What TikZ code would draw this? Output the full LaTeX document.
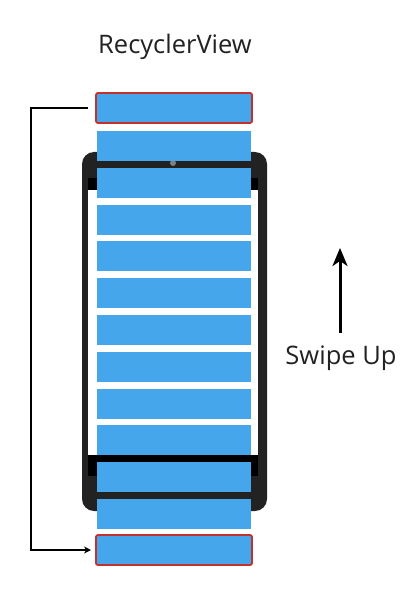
\documentclass[tikz,border=0pt]{standalone}
\usepackage{fontspec}
\setmainfont{Open Sans}
\usetikzlibrary{arrows.meta}
\definecolor{itemblue}{RGB}{70,166,235}
\definecolor{itemred}{RGB}{196,48,43}
\definecolor{phonegray}{RGB}{34,34,34}
\definecolor{labelgray}{RGB}{34,34,34}

\begin{document}
\begin{tikzpicture}[
  x=1pt,y=-1pt,
  item/.style={fill=itemblue,minimum width=154pt,minimum height=30pt,
               inner sep=0pt,outer sep=0pt},
  recycled/.style={item,draw=itemred,line width=1.8pt,rounded corners=2pt,
                   minimum width=156pt},
  bar/.style={fill=black,minimum width=170pt,inner sep=0pt},
  lbl/.style={font=\fontsize{25.5}{30}\selectfont,text=labelgray,anchor=base},
  ar/.style={-{Stealth[length=7pt,width=7pt]},line width=1.8pt},
  swipe/.style={-{Stealth[length=18pt,width=15pt,inset=5pt]},line width=3pt}
]
\useasboundingbox (0,0) rectangle (413,612);

% phone behind the list
\node[fill=phonegray,rounded corners=12pt,minimum width=185pt,
      minimum height=359pt,inner sep=0pt] (phone) at (174.5,331.5) {};
\node[fill=white,minimum width=170pt,minimum height=265pt,inner sep=0pt]
  (screen) at (173,322.5) {};
\node[bar,minimum height=12pt] (statusbar) at (173,184) {};
\node[bar,minimum height=21pt] (navbar) at (173,465.5) {};
\node[circle,fill=gray,minimum size=6pt,inner sep=0pt] (camera) at (173,163) {};

% list items
\foreach \i in {0,...,10}
  \node[item] (item\i) at (174,146+36.8*\i) {};
\node[recycled] (recycledtop) at (174,108) {};
\node[recycled] (recycledbot) at (174,550) {};

\node[lbl] (title) at (175,54) {RecyclerView};
\node[lbl] (swipelbl) at (341,364) {Swipe Up};

\coordinate (swipefrom) at (340,333);
\coordinate (swipeto) at (340,248);
\draw[swipe] (swipefrom) -- (swipeto);

\draw[ar] ([xshift=-8pt]recycledtop.west) -- ++(-57,0)
  |- ([xshift=-5pt]recycledbot.west);
\end{tikzpicture}
\end{document}
